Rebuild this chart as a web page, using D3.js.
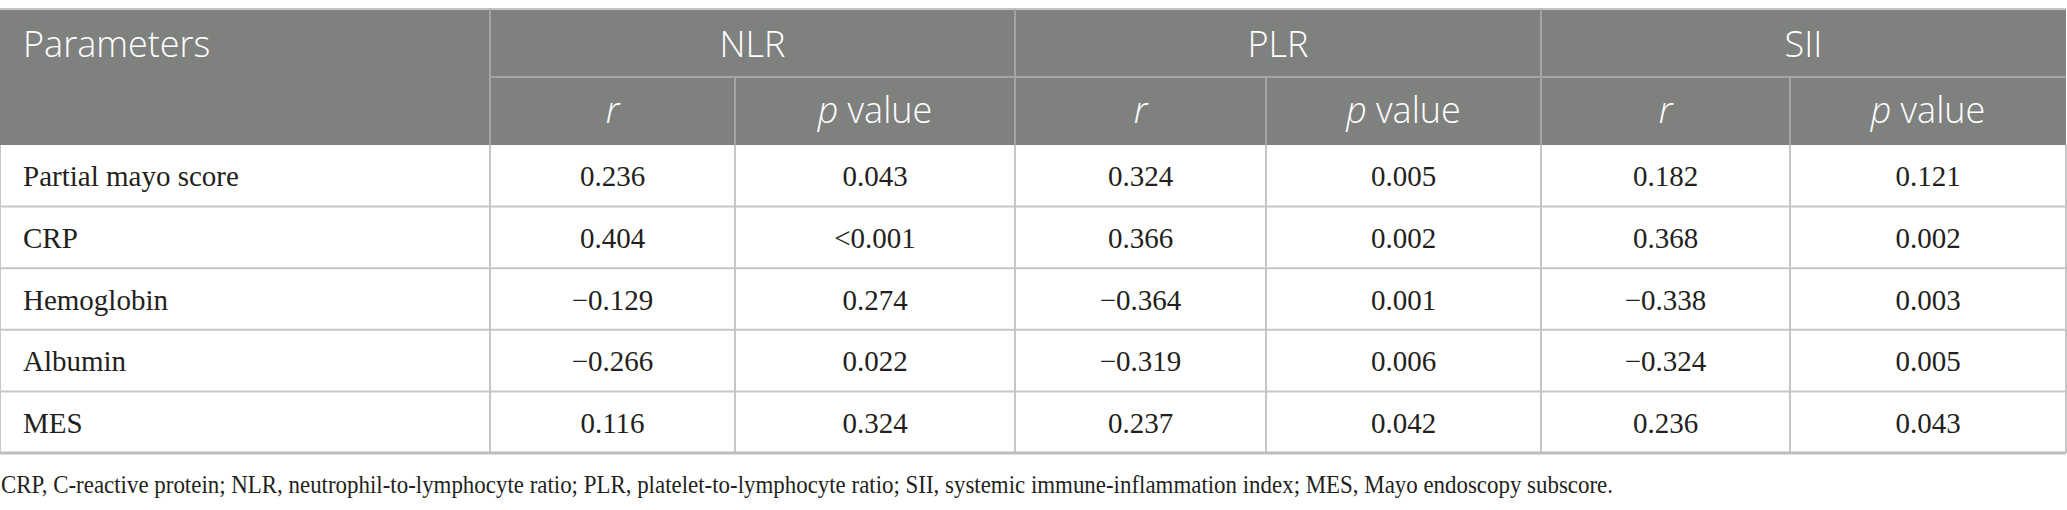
<!DOCTYPE html>
<html>
<head>
<meta charset="utf-8">
<script src="https://cdn.jsdelivr.net/npm/d3@7"></script>
<style>
  html, body { margin: 0; padding: 0; background: #fff; }
  svg { display: block; }
  .head { font-family: "Open Sans", "Noto Sans", sans-serif; font-weight: 300; fill: #fff; }
  .cell { font-family: "Liberation Serif", "DejaVu Serif", serif; fill: #231f20; }
</style>
</head>
<body>
<svg id="table"></svg>
<script>
// table content
var parameters = ["Partial mayo score", "CRP", "Hemoglobin", "Albumin", "MES"];
var groups = ["NLR", "PLR", "SII"];
var subHeaders = ["r", "p value"];

var nlrR = ["0.236", "0.404", "\u22120.129", "\u22120.266", "0.116"];
var nlrP = ["0.043", "<0.001", "0.274", "0.022", "0.324"];
var plrR = ["0.324", "0.366", "\u22120.364", "\u22120.319", "0.237"];
var plrP = ["0.005", "0.002", "0.001", "0.006", "0.042"];
var siiR = ["0.182", "0.368", "\u22120.338", "\u22120.324", "0.236"];
var siiP = ["0.121", "0.002", "0.003", "0.005", "0.043"];

var footnote = "CRP, C-reactive protein; NLR, neutrophil-to-lymphocyte ratio; PLR, platelet-to-lymphocyte ratio; SII, systemic immune-inflammation index; MES, Mayo endoscopy subscore.";

var width = 2067, height = 510;
var svg = d3.select("#table").attr("width", width).attr("height", height);

// column edges (px) of the 7 columns
var edges = [0, 490, 735, 1015, 1266, 1541, 1790, 2066];
var colX = d3.scaleOrdinal().domain(d3.range(8)).range(edges);
var colMid = function(i) { return (colX(i) + colX(i + 1)) / 2; };

// "top" is taken by window.top, so use other names
var headTop = 9, head1 = 77, headBottom = 145, tableBottom = 453;
var y = d3.scaleBand().domain(parameters).range([headBottom, tableBottom]);

// header background
svg.append("rect")
  .attr("x", 0).attr("y", headTop)
  .attr("width", edges[7]).attr("height", headBottom - headTop)
  .attr("fill", "#7f817f");

// top rule
svg.append("line")
  .attr("x1", 0).attr("x2", edges[7])
  .attr("y1", headTop).attr("y2", headTop)
  .attr("stroke", "#c4c4c4").attr("stroke-width", 2);

// header grid lines
var hg = svg.append("g").attr("stroke", "#a3a5a3").attr("stroke-width", 2);
hg.append("line").attr("x1", colX(1)).attr("x2", edges[7]).attr("y1", head1).attr("y2", head1);
hg.selectAll("line.grp").data([1, 3, 5]).enter().append("line")
  .attr("class", "grp")
  .attr("x1", colX).attr("x2", colX)
  .attr("y1", headTop).attr("y2", headBottom);
hg.selectAll("line.sub").data([2, 4, 6]).enter().append("line")
  .attr("class", "sub")
  .attr("x1", colX).attr("x2", colX)
  .attr("y1", head1).attr("y2", headBottom);

// header text
svg.append("text").attr("class", "head")
  .attr("x", 23).attr("y", 57)
  .attr("font-size", 36)
  .text("Parameters");

svg.selectAll("text.grp").data(groups).enter().append("text")
  .attr("class", "head grp")
  .attr("x", function(d, i) { return (colX(1 + 2 * i) + colX(3 + 2 * i)) / 2; })
  .attr("y", 57)
  .attr("font-size", 36)
  .attr("text-anchor", "middle")
  .text(function(d) { return d; });

var subs = d3.range(6).map(function(i) { return { col: i + 1, label: subHeaders[i % 2] }; });
var st = svg.selectAll("text.sub").data(subs).enter().append("text")
  .attr("class", "head sub")
  .attr("x", function(d) { return colMid(d.col); })
  .attr("y", 123)
  .attr("font-size", 36)
  .attr("text-anchor", "middle");
st.each(function(d) {
  var t = d3.select(this);
  if (d.label === "r") {
    t.append("tspan").attr("font-style", "italic").text("r");
  } else {
    t.append("tspan").attr("font-style", "italic").text("p");
    t.append("tspan").text(" value");
  }
});

// body grid
var bg = svg.append("g").attr("stroke", "#c6c6c6").attr("stroke-width", 2);
bg.selectAll("line.row").data(parameters.slice(1)).enter().append("line")
  .attr("class", "row")
  .attr("x1", 0).attr("x2", edges[7])
  .attr("y1", function(d) { return y(d); })
  .attr("y2", function(d) { return y(d); });
bg.selectAll("line.col").data(d3.range(8)).enter().append("line")
  .attr("class", "col")
  .attr("x1", colX).attr("x2", colX)
  .attr("y1", headBottom).attr("y2", tableBottom);
svg.append("line")
  .attr("x1", 0).attr("x2", edges[7])
  .attr("y1", tableBottom).attr("y2", tableBottom)
  .attr("stroke", "#bdbdbd").attr("stroke-width", 3);

// body text
var columns = [nlrR, nlrP, plrR, plrP, siiR, siiP];
svg.selectAll("text.param").data(parameters).enter().append("text")
  .attr("class", "cell param")
  .attr("x", 23)
  .attr("y", function(d) { return y(d) + y.bandwidth() / 2 + 10.5; })
  .attr("font-size", 29)
  .text(function(d) { return d; });

columns.forEach(function(vals, c) {
  svg.selectAll("text.c" + c).data(vals).enter().append("text")
    .attr("class", "cell c" + c)
    .attr("x", colMid(c + 1))
    .attr("y", function(d, i) { return y(parameters[i]) + y.bandwidth() / 2 + 10.5; })
    .attr("font-size", 29)
    .attr("text-anchor", "middle")
    .text(function(d) { return d; });
});

// footnote (squeezed to the width of the narrower original face)
svg.append("text").attr("class", "cell")
  .attr("x", 1).attr("y", 493)
  .attr("font-size", 26)
  .attr("textLength", 1612)
  .attr("lengthAdjust", "spacingAndGlyphs")
  .text(footnote);
</script>
</body>
</html>
